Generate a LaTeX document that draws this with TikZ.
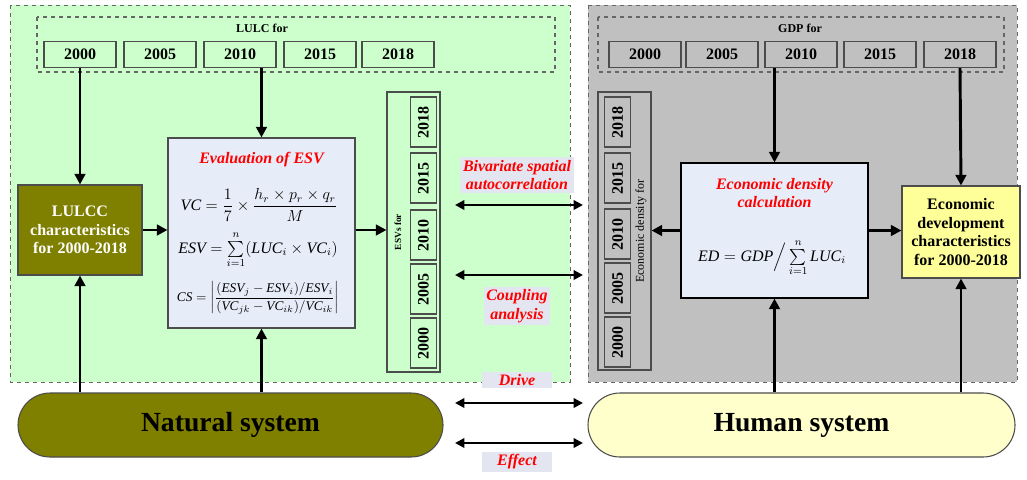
\documentclass[tikz,border=0pt]{standalone}
\usepackage{fontspec}
\setmainfont{Liberation Serif}
\usepackage{amsmath}
\usetikzlibrary{arrows.meta}
\definecolor{lgreen}{HTML}{CCFFCC}
\definecolor{lgray}{HTML}{C0C0C0}
\definecolor{olivec}{HTML}{7F7F00}
\definecolor{boxblue}{HTML}{E6ECF8}
\definecolor{lyellow}{HTML}{FFFF99}
\definecolor{pyellow}{HTML}{FFFFCC}
\definecolor{labbg}{HTML}{E3E6F0}
\tikzset{
 yr/.style={draw=black!70,line width=0.8pt,minimum width=72pt*0.75,minimum height=26pt*0.75,font=\bfseries\large,inner sep=0pt},
 vyr/.style={draw=black!70,line width=0.8pt,minimum width=50pt*0.75,minimum height=26pt*0.75,font=\bfseries\large,inner sep=0pt,rotate=90},
 arr/.style={-{Triangle[length=8pt,width=8pt]},line width=2.2pt},
 darr/.style={{Triangle[length=7pt,width=7pt]}-{Triangle[length=7pt,width=7pt]},line width=2pt},
 lab/.style={fill=labbg,text=red,font=\bfseries\itshape\large,align=center,inner sep=2pt},
}
\begin{document}
\begin{tikzpicture}[x=0.75pt,y=-0.75pt]
\useasboundingbox (0,0) rectangle (1027,479);
% regions
\draw[dashed,fill=lgreen,draw=black!60] (10,5) rectangle (570,382);
\draw[dashed,fill=lgray,draw=black!60] (588,5) rectangle (1017,382);
% LULC
\draw[dashed,draw=black!60,line width=0.8pt] (37,17) rectangle (555,72);
\node[font=\bfseries\small] (lulcl) at (262,28) {LULC for};
\foreach \c/\y in {80/2000,160/2005,240/2010,320/2015,398/2018}
  \node[yr] (l\y) at (\c,54.5) {\y};
% GDP
\draw[dashed,draw=black!60,line width=0.8pt] (598,17) rectangle (1004,72);
\node[font=\bfseries\small] (gdpl) at (800,28) {GDP for};
\foreach \c/\y in {645/2000,722/2005,801/2010,880/2015,960/2018}
  \node[yr] (g\y) at (\c,54.5) {\y};
% LULCC box
\node[draw=black!70,fill=olivec,text=white,font=\bfseries\large,align=center,minimum width=124pt*0.75,minimum height=90pt*0.75,line width=0.8pt] (lulcc) at (80,230) {LULCC\\characteristics\\for 2000-2018};
% ESV box
\node[draw=black!70,fill=boxblue,minimum width=187pt*0.75,minimum height=190pt*0.75,line width=0.8pt] (esv) at (261.5,233) {};
\node[text=red,font=\bfseries\itshape\large] (esvt) at (261.5,160) {Evaluation of ESV};
\node[font=\large] (f1) at (259,205) {$\mathit{VC}=\dfrac{1}{7}\times\dfrac{h_r\times p_r\times q_r}{M}$};
\node[font=\large] (f2) at (258,250) {$\mathit{ESV}=\sum\limits_{i=1}^{n}(\mathit{LUC}_i\times \mathit{VC}_i)$};
\node (f3) at (258,298) {$\mathit{CS}=\left|\dfrac{(\mathit{ESV}_j-\mathit{ESV}_i)/\mathit{ESV}_i}{(\mathit{VC}_{jk}-\mathit{VC}_{ik})/\mathit{VC}_{ik}}\right|$};
% ESV column
\node[draw=black!70,fill=lgreen,minimum width=53pt*0.75,minimum height=280pt*0.75,line width=0.8pt] (esvcol) at (413.5,232) {};
\node[rotate=90,font=\bfseries\scriptsize] (esvcl) at (398,232) {ESVs for};
\foreach \c/\y in {122/2018,178/2015,235/2010,289/2005,343/2000}
  \node[vyr] (e\y) at (423.5,\c) {\y};
% ED column
\node[draw=black!70,fill=lgray,minimum width=53pt*0.75,minimum height=278pt*0.75,line width=0.8pt] (edcol) at (624.5,231) {};
\node[rotate=90,font=\small] (edcl) at (641,231) {Economic density for};
\foreach \c/\y in {122/2018,178/2015,234/2010,288/2005,342/2000}
  \node[vyr] (d\y) at (617.5,\c) {\y};
% ED box
\node[draw=black,fill=boxblue,minimum width=187pt*0.75,minimum height=135pt*0.75,line width=0.8pt] (ed) at (774.5,230.5) {};
\node[text=red,font=\bfseries\itshape\large,align=center] (edt) at (774.5,193) {Economic density\\calculation};
\node[font=\large] (f4) at (772,258) {$\mathit{ED}=\mathit{GDP}\Big/\sum\limits_{i=1}^{n}\mathit{LUC}_i$};
% yellow
\node[draw=black!70,fill=lyellow,font=\bfseries\large,align=center,minimum width=118pt*0.75,minimum height=92pt*0.75,line width=0.8pt,inner sep=1pt] (edc) at (961,232) {Economic\\development\\characteristics\\for 2000-2018};
% systems
\node[draw=black!70,fill=olivec,rounded corners=24pt,minimum width=425pt*0.75,minimum height=64pt*0.75,font=\bfseries\huge,line width=0.8pt] (nat) at (230.5,425) {Natural system};
\node[draw=black!70,fill=pyellow,rounded corners=24pt,minimum width=427pt*0.75,minimum height=64pt*0.75,font=\bfseries\huge,line width=0.8pt] (hum) at (801.5,425) {Human system};
% arrows
\draw[arr] (l2000.south) -- (lulcc.north);
\draw[arr] (l2010.south -| esv.north) -- (esv.north);
\draw[arr] (nat.north -| lulcc.south) -- (lulcc.south);
\draw[arr] (nat.north -| esv.south) -- (esv.south);
\draw[arr] (lulcc.east) -- (lulcc.east -| esv.west);
\draw[arr] (esv.east |- lulcc.east) -- (esvcol.west |- lulcc.east);
\draw[arr] (g2010.south -| ed.north) -- (ed.north);
\draw[arr] (g2018.south) -- (edc.north);
\draw[arr] (hum.north -| ed.south) -- (ed.south);
\draw[arr] (hum.north -| edc.south) -- (edc.south);
\draw[arr] (ed.west) -- (edcol.east |- ed.west);
\draw[arr] (ed.east) -- (edc.west |- ed.east);
% double arrows
\coordinate (a1) at (455,205); \coordinate (b1) at (583,205);
\coordinate (a2) at (455,275); \coordinate (b2) at (583,275);
\coordinate (a3) at (455,403); \coordinate (b3) at (583,403);
\coordinate (a4) at (455,443); \coordinate (b4) at (583,443);
\draw[darr] (a1) -- (b1);
\draw[darr] (a2) -- (b2);
\draw[darr] (a3) -- (b3);
\draw[darr] (a4) -- (b4);
\node[lab] (bsa) at (517,175) {Bivariate spatial\\autocorrelation};
\node[lab] (ca) at (517,306) {Coupling\\analysis};
\node[lab,minimum width=70pt*0.75] (dr) at (517,380) {Drive};
\node[lab,minimum width=70pt*0.75] (ef) at (517,462) {Effect};
\end{tikzpicture}
\end{document}
